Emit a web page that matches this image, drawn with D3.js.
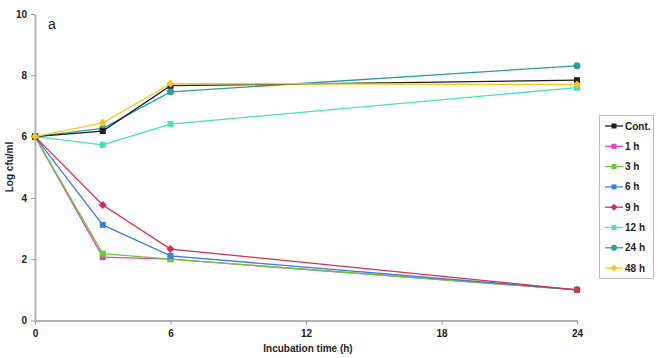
<!DOCTYPE html>
<html><head><meta charset="utf-8">
<script src="https://cdn.jsdelivr.net/npm/d3@7"></script>
<style>body{margin:0;background:#fff}svg{display:block;font-family:"Liberation Sans",Arial,sans-serif}</style>
</head><body><svg id="c" width="658" height="358"></svg>
<script>
const hours = [0, 3, 6, 24];
const seriesNames = ["Cont.", "1 h", "3 h", "6 h", "9 h", "12 h", "24 h", "48 h"];
const contVals = [6.0, 6.18, 7.66, 7.84];
const h1Vals = [6.0, 2.07, 2.0, 1.0];
const h3Vals = [6.0, 2.18, 2.0, 1.0];
const h6Vals = [6.0, 3.12, 2.11, 1.0];
const h9Vals = [6.0, 3.77, 2.33, 1.0];
const h12Vals = [6.0, 5.73, 6.41, 7.6];
const h24Vals = [6.0, 6.27, 7.46, 8.31];
const h48Vals = [6.0, 6.45, 7.73, 7.7];
const xTicks = [0, 6, 12, 18, 24];
const yTicks = [0, 2, 4, 6, 8, 10];
const colors = ["#1e1e1e", "#e83cc8", "#66cc33", "#3a7ee0", "#d0304c", "#48e0b4", "#2a9c9a", "#f6c81c"];
const markers = ["square", "square", "square", "square", "diamond", "square", "circle", "diamond"];
const allVals = [contVals, h1Vals, h3Vals, h6Vals, h9Vals, h12Vals, h24Vals, h48Vals];

const svg = d3.select("#c");
const x = d3.scaleLinear().domain([0, 24]).range([35, 577]);
const y = d3.scaleLinear().domain([0, 10]).range([320.5, 14]);

// axes
const xAxis = svg.append("g").attr("transform", "translate(0,320.5)")
  .call(d3.axisBottom(x).tickValues(xTicks).tickSize(4).tickSizeOuter(0));
xAxis.select(".domain").attr("stroke", "#b4b4b4").attr("stroke-width", 2);
xAxis.selectAll(".tick line").attr("stroke", "#999");
xAxis.selectAll("text").attr("font-size", 10).attr("font-weight", "bold").attr("fill", "#222").attr("dy", "0.9em");

const yAxis = svg.append("g").attr("transform", "translate(35,0)")
  .call(d3.axisLeft(y).tickValues(yTicks).tickSize(4).tickSizeOuter(0));
yAxis.select(".domain").attr("stroke", "#b4b4b4").attr("stroke-width", 2);
yAxis.selectAll(".tick line").attr("stroke", "#999");
yAxis.selectAll("text").attr("font-size", 10).attr("font-weight", "bold").attr("fill", "#222").attr("x", -8);

svg.append("text").attr("transform", "translate(13,167) rotate(-90)").attr("text-anchor", "middle")
  .attr("font-size", 10).attr("font-weight", "bold").attr("fill", "#222").text("Log cfu/ml");
svg.append("text").attr("x", 308).attr("y", 352).attr("text-anchor", "middle")
  .attr("font-size", 10).attr("font-weight", "bold").attr("fill", "#222").text("Incubation time (h)");
svg.append("text").attr("x", 48).attr("y", 29).attr("font-size", 14).attr("fill", "#222").text("a");

function drawMarker(g, type, cx, cy, color, s) {
  if (type === "square") {
    g.append("rect").attr("x", cx - s).attr("y", cy - s).attr("width", 2 * s).attr("height", 2 * s).attr("fill", color);
  } else if (type === "circle") {
    g.append("circle").attr("cx", cx).attr("cy", cy).attr("r", s + 0.5).attr("fill", color);
  } else {
    const d = s + 1;
    g.append("path").attr("d", `M${cx},${cy - d}L${cx + d},${cy}L${cx},${cy + d}L${cx - d},${cy}Z`).attr("fill", color);
  }
}

const line = d3.line().x((d, i) => x(hours[i])).y(d => y(d));
const order = [1, 2, 3, 4, 5, 6, 0, 7];
order.forEach(k => {
  const g = svg.append("g");
  g.append("path").datum(allVals[k]).attr("d", line).attr("fill", "none").attr("stroke", colors[k]).attr("stroke-width", 1.3);
  allVals[k].forEach((v, i) => drawMarker(g, markers[k], x(hours[i]), y(v), colors[k], 3));
});

// legend
const lg = svg.append("g");
lg.append("rect").attr("x", 599.5).attr("y", 115.5).attr("width", 54).attr("height", 163)
  .attr("fill", "#fff").attr("stroke", "#bbb").attr("stroke-width", 1);
seriesNames.forEach((n, k) => {
  const yy = 126 + k * 20.3;
  lg.append("line").attr("x1", 605).attr("x2", 623).attr("y1", yy).attr("y2", yy).attr("stroke", colors[k]).attr("stroke-width", 1.3);
  drawMarker(lg, markers[k], 614, yy, colors[k], 2.5);
  lg.append("text").attr("x", 625).attr("y", yy + 3.5).attr("font-size", 10).attr("font-weight", "bold").attr("fill", "#222").text(n);
});
</script></body></html>
